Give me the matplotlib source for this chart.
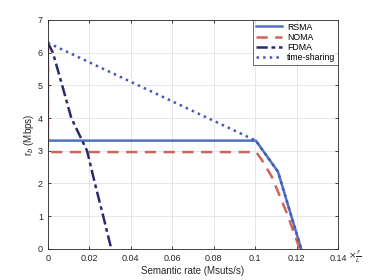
import numpy as np
import matplotlib.pyplot as plt

# data
rsma_x = [0, 0, 0.1003, 0.111, 0.1222]
rsma_y = [6.3, 3.31, 3.31, 2.36, 0]

noma_x = [0, 0, 0.1005, 0.1032, 0.108, 0.1153, 0.1215]
noma_y = [6.3, 2.96, 2.96, 2.72, 2.21, 1.09, 0]

fdma_x = [0, 0.0024, 0.0069, 0.0113, 0.0189, 0.0227, 0.0267, 0.0306]
fdma_y = [6.3, 6.0, 5.0, 4.0, 3.0, 2.0, 1.0, 0]

ts_x = [0, 0.1003, 0.111, 0.1222]
ts_y = [6.3, 3.31, 2.36, 0]

xticks = [0, 0.02, 0.04, 0.06, 0.08, 0.1, 0.12, 0.14]
xticklabels = ['0', '0.02', '0.04', '0.06', '0.08', '0.1', '0.12', '0.14']
yticks = [0, 1, 2, 3, 4, 5, 6, 7]

plt.rcParams['font.family'] = ['Liberation Sans', 'DejaVu Sans']

fig = plt.figure(figsize=(3.74, 2.8), dpi=100)
ax = fig.add_axes([0.128, 0.111, 0.776, 0.818])

ax.plot(rsma_x, rsma_y, '-', color='#4E72C4', lw=1.8, label='RSMA')
ax.plot(noma_x, noma_y, '--', color='#D0645A', lw=1.8, dashes=(4.5, 3), label='NOMA')
ax.plot(fdma_x, fdma_y, '-.', color='#2B2B6B', lw=1.8, dashes=(4.5, 1.5, 1.5, 1.5),
        label='FDMA')
ax.plot(ts_x, ts_y, ':', color='#4856B8', lw=1.8, label='time-sharing')

ax.set_xlim(0, 0.14)
ax.set_ylim(0, 7)
ax.set_xticks(xticks)
ax.set_xticklabels(xticklabels)
ax.set_yticks(yticks)
ax.tick_params(direction='in', labelsize=6.5, length=2.5, width=0.6,
               colors='#262626', top=True, right=True)
ax.tick_params(labeltop=False, labelright=False)
ax.grid(True, color='#E3E3E3', lw=0.6)
ax.set_axisbelow(True)
for s in ax.spines.values():
    s.set_color('#262626')
    s.set_linewidth(0.6)

ax.set_xlabel('Semantic rate (Msuts/s)', fontsize=7, color='#262626', labelpad=2)
ax.set_ylabel('r$_b$ (Mbps)', fontsize=7, color='#262626', labelpad=1)
ax.text(1.035, -0.035, r'$\times\frac{f}{L}$', transform=ax.transAxes,
        fontsize=6.5, color='#262626', va='center', ha='left')

leg = ax.legend(loc='upper right', fontsize=6.3, frameon=True, fancybox=False,
                borderpad=0.3, labelspacing=0.15, handlelength=3.0,
                handletextpad=0.6, borderaxespad=0)
leg.get_frame().set_edgecolor('#262626')
leg.get_frame().set_linewidth(0.6)

fig.savefig('out.png', dpi=100)
